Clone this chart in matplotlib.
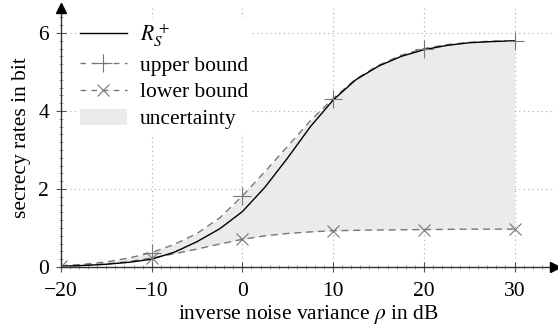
import matplotlib
matplotlib.use("Agg")
import matplotlib.pyplot as plt
import numpy as np

# data
snr_db = [-20, -17.5, -15, -12.5, -10, -7.5, -5, -2.5, 0, 2.5, 5, 7.5, 10,
          12.5, 15, 17.5, 20, 22.5, 25, 27.5, 30]
rate_rs = [0.02, 0.04, 0.07, 0.12, 0.20, 0.38, 0.65, 0.98, 1.42, 2.05, 2.80,
           3.60, 4.28, 4.80, 5.15, 5.40, 5.57, 5.68, 5.75, 5.78, 5.80]
upper = [0.03, 0.07, 0.13, 0.23, 0.37, 0.58, 0.86, 1.26, 1.82, 2.45, 3.10,
         3.75, 4.32, 4.82, 5.17, 5.43, 5.60, 5.70, 5.76, 5.79, 5.80]
lower = [0.02, 0.04, 0.08, 0.14, 0.23, 0.34, 0.46, 0.59, 0.71, 0.80, 0.86,
         0.90, 0.93, 0.94, 0.95, 0.955, 0.96, 0.965, 0.97, 0.97, 0.97]
mark_db = [-20, -10, 0, 10, 20, 30]
upper_marks = [0.03, 0.37, 1.82, 4.32, 5.60, 5.80]
lower_marks = [0.02, 0.23, 0.71, 0.93, 0.96, 0.97]
xticks = [-20, -10, 0, 10, 20, 30]
yticks = [0, 2, 4, 6]

plt.rcParams['font.family'] = ['Liberation Serif', 'DejaVu Serif']
plt.rcParams['mathtext.fontset'] = 'stix'
plt.rcParams['font.size'] = 15.5

fig = plt.figure(figsize=(5.58, 3.26), dpi=100)
ax = fig.add_axes([61/558, 1-267/326, (555-61)/558, (267-8)/326])
ax.set_xlim(-20, -20 + (555-61)/9.07)
ax.set_ylim(0, (267-8)/39.0)

gray = '#777777'
dash = (0, (5, 3.5))
ax.fill_between(snr_db, lower, upper, color='#ebebeb', lw=0, zorder=1)
ax.plot(snr_db, rate_rs, color='black', lw=1.0, zorder=3)
ax.plot(snr_db, upper, color=gray, lw=1.0, ls=dash, zorder=2)
ax.plot(snr_db, lower, color=gray, lw=1.0, ls=dash, zorder=2)
ax.plot(mark_db, upper_marks, ls='none', marker='+', ms=13, mew=0.8,
        color=gray, zorder=4)
ax.plot(mark_db, lower_marks, ls='none', marker='x', ms=9, mew=0.8,
        color=gray, zorder=4)

# legend proxies
from matplotlib.lines import Line2D
from matplotlib.patches import Patch
h_rs = Line2D([], [], color='black', lw=1.0)
h_up = Line2D([], [], color=gray, lw=1.0, ls=(0, (4, 4)), marker='+', ms=13, mew=0.8)
h_lo = Line2D([], [], color=gray, lw=1.0, ls=(0, (4, 4)), marker='x', ms=9, mew=0.8)
h_un = Patch(facecolor='#ebebeb', edgecolor='none')
leg = ax.legend([h_rs, h_up, h_lo, h_un],
                [r'$R_S^+$', 'upper bound', 'lower bound', 'uncertainty'],
                loc='upper left', bbox_to_anchor=(15/494, 1 - 10/259),
                frameon=True, fancybox=False, edgecolor='none', framealpha=1,
                handlelength=2.15, handleheight=0.75, handletextpad=0.6,
                labelspacing=0.3, borderpad=0.2, borderaxespad=0)
leg.set_zorder(6)

# grid
for xv in xticks[1:]:
    ax.axvline(xv, color='#aaaaaa', lw=0.8, ls=(0, (1, 3)), zorder=0)
for yv in yticks[1:]:
    ax.axhline(yv, color='#aaaaaa', lw=0.8, ls=(0, (1, 3)), zorder=0)

ax.set_xticks(xticks)
ax.set_xticklabels([f'{v}'.replace('-', '\u2212') for v in xticks])
ax.set_yticks(yticks)
ax.set_xticks(np.arange(-20, 34, 1), minor=True)
ax.set_yticks(np.arange(0, 6.6, 0.2), minor=True)
ax.tick_params(which='major', direction='inout', length=7, width=0.8,
               color='#555555')
ax.tick_params(axis='x', which='major', pad=7)
ax.tick_params(axis='y', which='major', pad=5)
ax.tick_params(which='minor', direction='inout', length=2.5, width=0.5,
               color='#777777')

for s in ['top', 'right']:
    ax.spines[s].set_visible(False)
for s in ['left', 'bottom']:
    ax.spines[s].set_color('#333333')
    ax.spines[s].set_linewidth(1.0)
    ax.spines[s].set_zorder(5)

ax.plot(1, 0, '>', color='black', ms=7, transform=ax.transAxes, clip_on=False, zorder=7)
ax.plot(0, 1, '^', color='black', ms=7, transform=ax.transAxes, clip_on=False, zorder=7)

ax.set_xlabel(r'inverse noise variance $\rho$ in dB', labelpad=1.5)
ax.set_ylabel('secrecy rates in bit', labelpad=5)

fig.savefig('out.png', dpi=100)
